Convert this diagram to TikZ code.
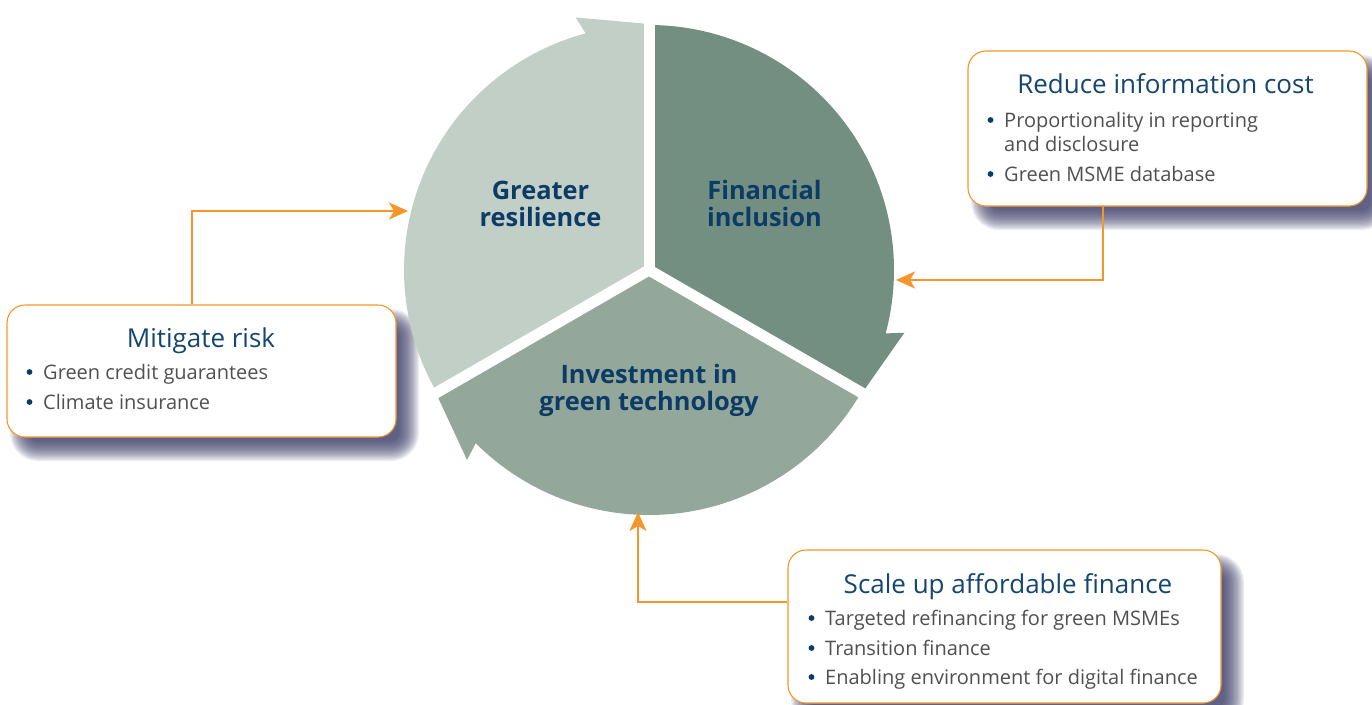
\documentclass[tikz,border=0pt]{standalone}
\usepackage{fontspec}
\setmainfont{Open Sans}
\usetikzlibrary{arrows.meta}

\definecolor{segLight}{HTML}{C1CFC7}
\definecolor{segDark}{HTML}{728F82}
\definecolor{segMid}{HTML}{93A79B}
\definecolor{navy}{HTML}{0C3B66}
\definecolor{boxTitle}{HTML}{15466F}
\definecolor{bodyGray}{HTML}{505050}
\definecolor{accent}{HTML}{F5962A}
\definecolor{shadowCol}{HTML}{3A3A66}

% one ring segment: colour, start angle, angle of the arrow end (clockwise flow)
\newcommand\ringseg[3]{%
  \pgfmathsetmacro\segnotch{#3+15}%
  \pgfmathsetmacro\segbarb{#3+16.2}%
  \fill[#1] (649,270) -- plot[domain=#2:\segnotch,samples=80] ({649+245*cos(\x)},{270-245*sin(\x)})
    -- ({649+263*cos(\segbarb)},{270-263*sin(\segbarb)})
    -- ({649+246*cos(#3)},{270-246*sin(#3)}) -- cycle;
}

% soft drop shadow behind a box given by its corners
\newcommand\softshadow[4]{%
  \foreach \k in {0,...,16}{%
    \pgfmathsetmacro\shexp{10-1.25*\k}%
    \pgfmathsetmacro\shrad{18+\shexp}%
    \fill[shadowCol, opacity=0.09, rounded corners=\shrad pt]
      ({#1+13-\shexp},{#2+14-\shexp}) rectangle ({#3+13+\shexp},{#4+14+\shexp});
  }%
}

% a bulleted line: node name, x of text, baseline y, text
\newcommand\bulletline[4]{%
  \fill[navy] ({#2-13.5},{#3-7}) circle (2.9pt);
  \node[bodytext, anchor=base west] (#1) at (#2,#3) {#4};
}

\tikzset{
  infobox/.style={draw=accent, line width=1.1pt, fill=white, rounded corners=18pt, inner sep=0pt},
  segtitle/.style={text=navy, align=center, inner sep=0pt, anchor=base,
    font=\fontsize{25.4}{26.8}\selectfont\bfseries},
  boxtitle/.style={text=boxTitle, inner sep=0pt, anchor=base, font=\fontsize{26}{30}\selectfont},
  bodytext/.style={text=bodyGray, inner sep=0pt, font=\fontsize{20}{24}\selectfont},
  link/.style={draw=accent, line width=2pt,
    -{Stealth[length=19pt, width=17pt, inset=5pt]}},
}

\begin{document}
\begin{tikzpicture}[x=1pt, y=-1pt]
  \useasboundingbox (0,0) rectangle (1372,704);
  \clip (0,0) rectangle (1372,704);

  % shadows of the three boxes
  \softshadow{7}{305}{396}{437}
  \softshadow{968}{51}{1367}{206}
  \softshadow{788}{550}{1221}{703}

  % the cycle ring
  \ringseg{segLight}{210}{90}
  \ringseg{segDark}{90}{-30}
  \ringseg{segMid}{330}{210}
  \foreach \a in {90,210,330}
    \draw[white, line width=11pt] (649,270) -- ({649+250*cos(\a)},{270-250*sin(\a)});

  % segment titles (anchored on the baseline of their last line)
  \node[segtitle] (resil) at (540.5,226) {Greater\\resilience};
  \node[segtitle] (incl) at (764.5,226) {Financial\\inclusion};
  \node[segtitle] (invest) at (649,410) {Investment in\\green technology};

  % arrow targets on the ring
  \coordinate (tipGR) at (408,211);
  \coordinate (tipFI) at (896,280);
  \coordinate (tipIG) at (638,512);

  % boxes
  \node[infobox, minimum width=389pt, minimum height=132pt] (risk) at (201.5,371) {};
  \node[infobox, minimum width=399pt, minimum height=155pt] (reduce) at (1167.5,128.5) {};
  \node[infobox, minimum width=433pt, minimum height=153pt] (scale) at (1004.5,626.5) {};

  % connectors
  \draw[link] ([xshift=-9.5pt]risk.north) |- (tipGR);
  \draw[link] ([xshift=-64.5pt]reduce.south) |- (tipFI);
  \draw[link] ([yshift=24.5pt]scale.west) -| (tipIG);

  % box texts
  \node[boxtitle] (riskT) at (201,347) {Mitigate risk};
  \bulletline{risk1}{43}{379}{Green credit guarantees}
  \bulletline{risk2}{43}{409}{Climate insurance}

  \node[boxtitle] (reduceT) at (1165.5,93) {Reduce information cost};
  \bulletline{reduce1}{1004}{127}{Proportionality in reporting}
  \node[bodytext, anchor=base west] (reduce1b) at (1004,151) {and disclosure};
  \bulletline{reduce2}{1004}{181}{Green MSME database}

  \node[boxtitle] (scaleT) at (1008,593) {Scale up affordable finance};
  \bulletline{scale1}{825}{625}{Targeted refinancing for green MSMEs}
  \bulletline{scale2}{825}{655}{Transition finance}
  \bulletline{scale3}{825}{684}{Enabling environment for digital finance}
\end{tikzpicture}
\end{document}
